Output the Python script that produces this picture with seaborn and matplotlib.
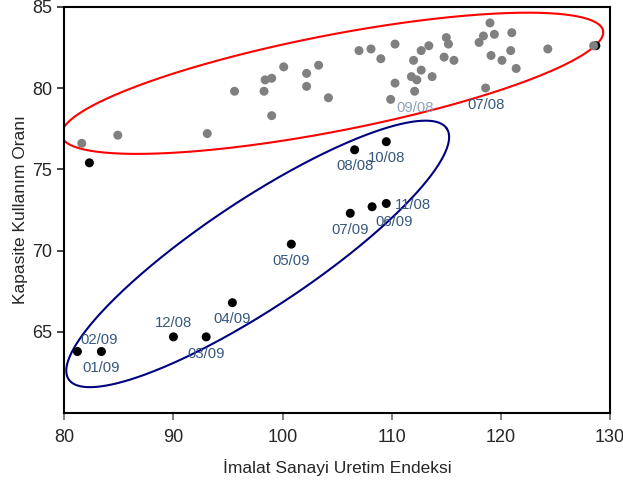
import numpy as np
import pandas as pd
import matplotlib
matplotlib.use("Agg")
import matplotlib.pyplot as plt
import seaborn as sns

# --- data ---
gray_x = [81.6, 84.9, 93.1, 95.6, 98.3, 98.4, 99.0, 99.0, 100.1, 102.2, 102.2, 103.3,
          104.2, 107.0, 108.1, 109.0, 110.3, 110.3, 109.9, 112.0, 112.7, 113.4, 112.7,
          111.8, 112.3, 112.1, 113.7, 115.0, 115.2, 114.8, 115.7, 118.0, 118.4, 119.0,
          119.4, 119.1, 120.1, 121.0, 120.9, 121.4, 124.3, 118.6, 128.5]
gray_y = [76.6, 77.1, 77.2, 79.8, 79.8, 80.5, 80.6, 78.3, 81.3, 80.9, 80.1, 81.4,
          79.4, 82.3, 82.4, 81.8, 82.7, 80.3, 79.3, 81.7, 82.3, 82.6, 81.1,
          80.7, 80.5, 79.8, 80.7, 83.1, 82.7, 81.9, 81.7, 82.8, 83.2, 84.0,
          83.3, 82.0, 81.7, 83.4, 82.3, 81.2, 82.4, 80.0, 82.6]
gray_labels = [""] * 25 + ["09/08"] + [""] * 15 + ["07/08", ""]

black_x = [82.3, 81.2, 83.4, 90.0, 93.0, 95.4, 100.8, 106.2, 108.2, 109.5, 106.6, 109.5, 128.7]
black_y = [75.4, 63.8, 63.8, 64.7, 64.7, 66.8, 70.4, 72.3, 72.7, 72.9, 76.2, 76.7, 82.6]
black_labels = ["", "02/09", "01/09", "12/08", "03/09", "04/09", "05/09",
                "07/09", "06/09", "11/08", "08/08", "10/08", ""]

# label offsets in points (dx, dy); default is centred just below the dot
label_offsets = {"02/09": (16, 8.5), "12/08": (0, 9.7), "06/09": (16, -11), "11/08": (19, -1)}

gray = pd.DataFrame({"x": gray_x, "y": gray_y, "label": gray_labels})
black = pd.DataFrame({"x": black_x, "y": black_y, "label": black_labels})

# --- figure ---
sns.set_theme(style="ticks")
plt.rcParams["font.family"] = ["Liberation Sans", "DejaVu Sans"]

fig = plt.figure(figsize=(6.23, 4.87), dpi=100)
ax = fig.add_axes([0.1032, 0.1513, 0.876, 0.835])

sns.scatterplot(data=black, x="x", y="y", color="black", s=42, edgecolor="none", ax=ax, zorder=3)
sns.scatterplot(data=gray, x="x", y="y", color="#808080", s=42, edgecolor="none", ax=ax, zorder=3)

label_color = "#36587e"
for df, col in ((black, label_color), (gray, None)):
    for _, r in df.iterrows():
        if not r["label"]:
            continue
        c = col if col else ("#8ea3bb" if r["label"] == "09/08" else label_color)
        dx, dy = label_offsets.get(r["label"], (0, -12))
        ax.annotate(r["label"], (r["x"], r["y"]), xytext=(dx, dy), textcoords="offset points",
                    ha="center", va="center", fontsize=10.7, color=c, zorder=4)

# grouping ellipses (centre, major and minor half-axis vectors in data units)
t = np.linspace(0, 2 * np.pi, 400)
ellipses = [((104.56, 80.29), (24.8, 3.23), (-0.84, 2.90), "#ff0000"),
            ((97.72, 69.80), (17.32, 7.71), (-2.75, 2.77), "#000080")]
for (cx, cy), (ux, uy), (vx, vy), col in ellipses:
    ax.plot(cx + ux * np.cos(t) + vx * np.sin(t), cy + uy * np.cos(t) + vy * np.sin(t),
            color=col, lw=1.5, zorder=2)

ax.set_xlim(80, 130)
ax.set_ylim(60, 85)
ax.set_xticks([80, 90, 100, 110, 120, 130])
ax.set_yticks([65, 70, 75, 80, 85])
ax.set_xlabel("İmalat Sanayi Uretim Endeksi", fontsize=12.5, labelpad=10)
ax.set_ylabel("Kapasite Kullanım Oranı", fontsize=12.5, labelpad=3)
ax.tick_params(axis="both", labelsize=13, length=5, width=1.2)
ax.tick_params(axis="x", color="#666666", pad=6)
for s in ax.spines.values():
    s.set_visible(True)
    s.set_linewidth(1.5)
    s.set_color("black")

fig.savefig("out.png", dpi=100)
